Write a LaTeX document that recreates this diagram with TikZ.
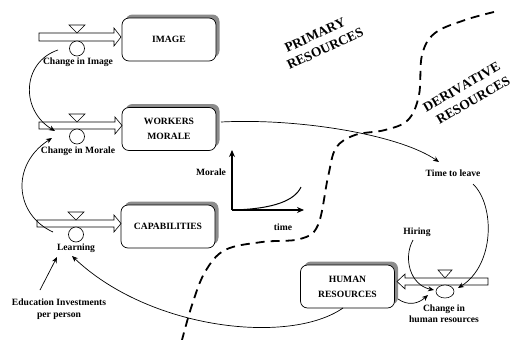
\documentclass[tikz,border=0pt]{standalone}
\usepackage{fontspec}
\setmainfont{Liberation Serif}
\usetikzlibrary{arrows.meta,shadows,shapes.geometric,decorations.text,calc}
\begin{document}
\begin{tikzpicture}[x=1pt,y=1pt,
  lbl/.style={font=\fontsize{9.6}{11.5}\selectfont\bfseries, align=center, inner sep=0pt},
  stock/.style={draw, line width=0.7pt, rounded corners=7pt, fill=white, minimum width=94pt, minimum height=43pt, align=center, font=\fontsize{9.6}{15}\selectfont\bfseries, drop shadow={shadow xshift=3.5pt, shadow yshift=3.5pt, fill=black!45, opacity=1}},
  pipe/.style={draw, line width=0.6pt, fill=white},
  valve/.style={draw, line width=0.6pt, fill=white},
  conn/.style={line width=0.7pt, -{Stealth[length=6pt,width=5pt]}},
  axis/.style={line width=1.3pt, -{Stealth[length=7pt,width=6pt]}},
  bound/.style={line width=1.8pt, dash pattern=on 9pt off 6pt},
  slanttext/.style={decorate, decoration={text along path, text align=center, text={|\fontsize{13.5}{16}\selectfont\bfseries|#1}}}
]
\useasboundingbox (0,0) rectangle (512,-340);

% stocks
\node[stock] (image) at (169,-39.5) {IMAGE};
\node[stock] (morale) at (169,-129) {WORKERS\\MORALE};
\node[stock] (capab) at (168,-226.5) {CAPABILITIES};
\node[stock] (hr) at (347.5,-286.5) {HUMAN\\RESOURCES};

% pipes
\draw[pipe] (39,-33) -- (114,-33) -- (114,-28) -- (121,-37) -- (114,-46) -- (114,-41) -- (39,-41) -- cycle;
\draw[pipe] (39,-122) -- (115,-122) -- (115,-117) -- (122,-125.5) -- (115,-134) -- (115,-129) -- (39,-129) -- cycle;
\draw[pipe] (37,-220) -- (114,-220) -- (114,-215) -- (121,-223.5) -- (114,-232) -- (114,-227) -- (37,-227) -- cycle;
\draw[pipe] (488,-278) -- (405,-278) -- (405,-274) -- (397,-281.5) -- (405,-289) -- (405,-285) -- (488,-285) -- cycle;

% valves
\draw[valve] (69,-25) -- (85,-25) -- (77,-33) -- cycle;
\draw[valve] (69,-114) -- (85,-114) -- (77,-122) -- cycle;
\draw[valve] (68,-212) -- (84,-212) -- (76,-220) -- cycle;
\draw[valve] (438,-270) -- (452,-270) -- (445,-278) -- cycle;
\node[valve, circle, minimum size=15pt, inner sep=0pt] (cimg) at (77,-48.5) {};
\node[valve, circle, minimum size=15pt, inner sep=0pt] (cmor) at (77,-136.5) {};
\node[valve, circle, minimum size=15pt, inner sep=0pt] (clrn) at (76,-234.5) {};
\node[valve, ellipse, minimum width=18pt, minimum height=13pt, inner sep=0pt] (chr) at (445,-291.5) {};

% labels
\node[lbl] (limg) at (78,-62) {Change in Image};
\node[lbl] (lmor) at (78,-151) {Change in Morale};
\node[lbl] (llrn) at (76,-248) {Learning};
\node[lbl] (lhr) at (444,-313.5) {Change in\\human resources};
\node[lbl] (hiring) at (417,-232) {Hiring};
\node[lbl] (ttl) at (453,-173) {Time to leave};
\node[lbl] (gm) at (211,-172) {Morale};
\node[lbl] (gt) at (283,-227) {time};
\node[lbl] (edu) at (59,-309) {Education Investments\\per person};

% connector end points
\coordinate (a1) at (58,-50);
\coordinate (a2) at (55,-131);
\coordinate (b1) at (53,-232);
\coordinate (b2) at (52,-138);
\coordinate (c1) at (221,-122);
\coordinate (c2) at (439,-162);
\coordinate (d1) at (473,-184);
\coordinate (d2) at (458,-288);
\coordinate (e1) at (413,-240);
\coordinate (e2) at (434,-290);
\coordinate (f1) at (398,-299);
\coordinate (f2) at (428,-295);
\coordinate (g1) at (343,-308);
\coordinate (g2) at (72,-256);
\coordinate (h1) at (40,-290);
\coordinate (h2) at (57,-257);

\draw[conn] (a1) .. controls (22,-62) and (20,-110) .. (a2);
\draw[conn] (b1) .. controls (15,-215) and (10,-165) .. (b2);
\draw[conn] (c1) .. controls (300,-118) and (400,-135) .. (c2);
\draw[conn] (d1) .. controls (495,-205) and (495,-265) .. (d2);
\draw[conn] (e1) .. controls (403,-258) and (410,-285) .. (e2);
\draw[conn] (f1) .. controls (408,-306) and (418,-304) .. (f2);
\draw[conn] (g1) .. controls (290,-345) and (150,-330) .. (g2);
\draw[conn] (h1) -- (h2);

% morale graph
\coordinate (o) at (232,-210);
\coordinate (oy) at (232,-150);
\coordinate (ox) at (304,-210);
\coordinate (oc) at (301,-187);
\draw[axis] (o) -- (oy);
\draw[axis] (o) -- (ox);
\draw[line width=1pt] (o) .. controls (275,-209) and (295,-200) .. (oc);

% boundary
\draw[bound] plot[smooth, tension=0.6] coordinates {(494,-12) (465,-20) (435,-33) (422,-55) (419,-95) (408,-120) (385,-130) (355,-135) (336,-148) (328,-177) (318,-225) (300,-239) (262,-242) (225,-250) (205,-272) (192,-305) (182,-340)};

% region labels (baselines)
\coordinate (p1) at (317,-39);
\coordinate (p2) at (327,-52.5);
\coordinate (q1) at (463.7,-90.8);
\coordinate (q2) at (475.3,-104.2);
\path[slanttext=PRIMARY] ($(p1)+(205:60)$) -- ($(p1)+(25:60)$);
\path[slanttext=RESOURCES] ($(p2)+(205:60)$) -- ($(p2)+(25:60)$);
\path[slanttext=DERIVATIVE] ($(q1)+(210:60)$) -- ($(q1)+(30:60)$);
\path[slanttext=RESOURCES] ($(q2)+(210:60)$) -- ($(q2)+(30:60)$);
\end{tikzpicture}
\end{document}
